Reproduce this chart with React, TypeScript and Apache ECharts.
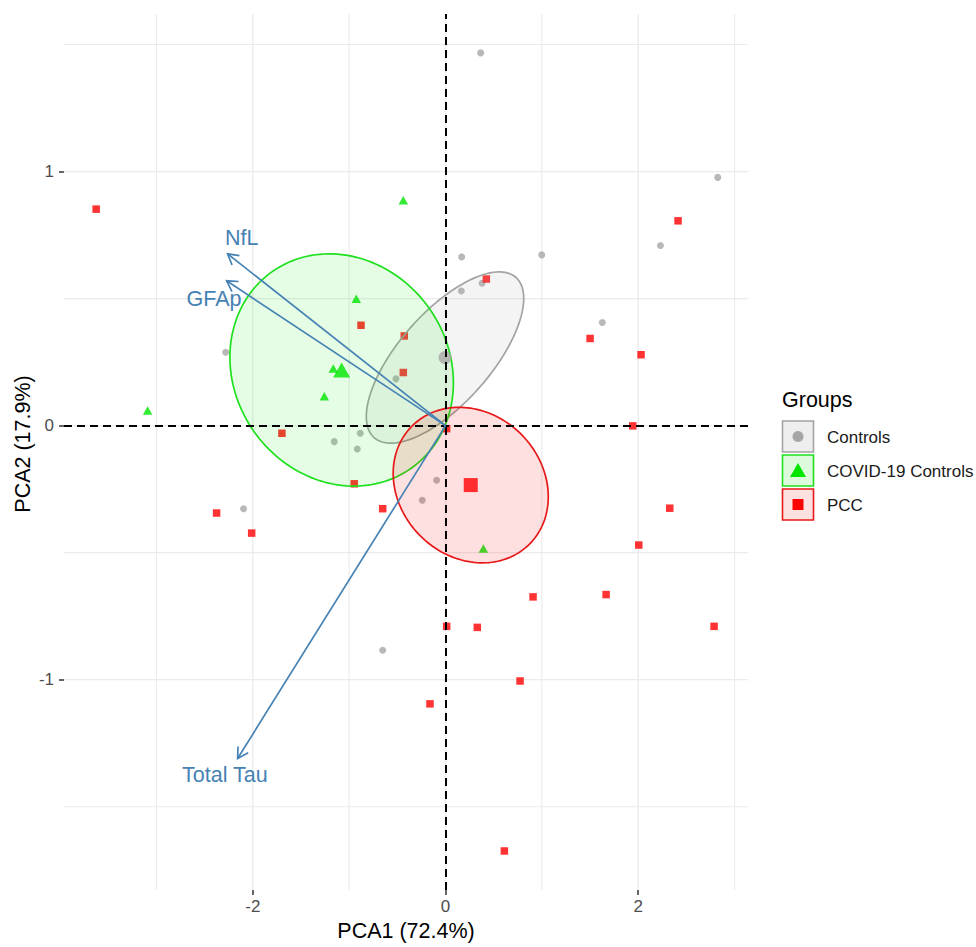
import React, { useEffect, useRef } from "react";
import * as echarts from "echarts";

// ---- data ----
const controlsX = [0.365, 2.826, 2.231, 0.999, 0.168, 0.164, 0.379, 1.628, -2.282, -0.514, -0.885, -1.155, -0.916, -2.096, -0.092, -0.241, -0.652];
const controlsY = [1.467, 0.977, 0.709, 0.672, 0.664, 0.53, 0.56, 0.406, 0.289, 0.184, -0.03, -0.063, -0.092, -0.327, -0.215, -0.294, -0.884];
const covidX = [-0.438, -0.926, -1.165, -1.258, -3.092, 0.393];
const covidY = [0.887, 0.499, 0.225, 0.116, 0.06, -0.484];
const pccX = [-3.626, -0.877, -0.428, -0.438, -1.698, 0.424, 0.012, 2.414, 1.501, 2.03, 1.944, -0.947, -2.376, -2.012, -0.652, 0.012, 0.33, -0.161, 2.328, 2.006, 0.909, 1.667, 2.788, 0.774, 0.611];
const pccY = [0.852, 0.395, 0.353, 0.209, -0.03, 0.577, -0.012, 0.806, 0.343, 0.279, -0.001, -0.229, -0.344, -0.423, -0.327, -0.79, -0.794, -1.095, -0.325, -0.47, -0.674, -0.665, -0.79, -1.005, -1.674];

const groups = ["Controls", "COVID-19 Controls", "PCC"];
const centroidX = [-0.005, -1.078, 0.262];
const centroidY = [0.268, 0.219, -0.234];
// confidence ellipse: half-width (x units), half-height (y units), correlation
const ellipseSX = [0.817, 1.16, 0.805];
const ellipseSY = [0.337, 0.457, 0.306];
const ellipseR = [0.689, -0.11, -0.15];

const variables = ["NfL", "GFAp", "Total Tau"];
const loadX = [-2.262, -2.272, -2.158];
const loadY = [0.676, 0.57, -1.31];
const labelX = [-2.116, -2.402, -2.29];
const labelY = [0.739, 0.499, -1.374];

const xMajor = [-2, 0, 2];
const xMinor = [-3, -1, 1, 3];
const yMajor = [-1, 0, 1];
const yMinor = [-1.5, -0.5, 0.5, 1.5];

// ---- styles ----
const FONT = "'Liberation Sans', Arial, Helvetica, sans-serif";
const pointColors = ["#a6a6a6", "#00e600", "#ff0000"];
const lineColors = ["#a3a3a3", "#1ee01e", "#e81818"];
const fillColors = ["rgba(170,170,170,0.13)", "rgba(0,230,0,0.1)", "rgba(255,0,0,0.12)"];
const keyFills = ["#eeeeee", "#dcfbdc", "#fde0e0"];
const ARROW = "#4682b4";

function zip(xs: number[], ys: number[]) {
  return xs.map((x, i) => [x, ys[i]]);
}

export default function App() {
  const ref = useRef<HTMLDivElement>(null);

  useEffect(() => {
    if (!ref.current) return;
    const chart = echarts.init(ref.current, undefined, { renderer: "svg" });

    const keyY = [421, 455, 489];
    const legendGraphics: any[] = [
      {
        type: "text",
        x: 782,
        y: 400,
        style: { text: "Groups", fontSize: 21.5, fontFamily: FONT, fill: "#000", align: "left", verticalAlign: "middle" },
      },
    ];
    groups.forEach((g, i) => {
      const y0 = keyY[i];
      legendGraphics.push({
        type: "rect",
        shape: { x: 782.5, y: y0, width: 31, height: 31 },
        style: { fill: keyFills[i], stroke: lineColors[i], lineWidth: 1.6 },
      });
      const cx = 798, cy = y0 + 15.5;
      if (i === 0) {
        legendGraphics.push({ type: "circle", shape: { cx, cy, r: 5.5 }, style: { fill: pointColors[0] } });
      } else if (i === 1) {
        legendGraphics.push({
          type: "polygon",
          shape: { points: [[cx, cy - 7.5], [cx + 8, cy + 6.5], [cx - 8, cy + 6.5]] },
          style: { fill: pointColors[1] },
        });
      } else {
        legendGraphics.push({ type: "rect", shape: { x: cx - 5.5, y: cy - 5.5, width: 11, height: 11 }, style: { fill: pointColors[2] } });
      }
      legendGraphics.push({
        type: "text",
        x: 827,
        y: cy + 0.5,
        style: { text: g, fontSize: 17, fontFamily: FONT, fill: "#1a1a1a", align: "left", verticalAlign: "middle" },
      });
    });
    legendGraphics.push({
      type: "text",
      x: 23,
      y: 444,
      rotation: Math.PI / 2,
      style: { text: "PCA2 (17.9%)", fontSize: 21.5, fontFamily: FONT, fill: "#000", align: "center", verticalAlign: "middle" },
    });

    // grid lines: [0 = vertical at x, 1 = horizontal at y, value, major?]
    const gridItems = [
      ...xMajor.map((v) => [0, v, 1]),
      ...xMinor.map((v) => [0, v, 0]),
      ...yMajor.map((v) => [1, v, 1]),
      ...yMinor.map((v) => [1, v, 0]),
    ];

    const option: any = {
      animation: false,
      textStyle: { fontFamily: FONT },
      grid: { left: 64, top: 14, width: 684, height: 883, containLabel: false },
      xAxis: {
        type: "value",
        min: -3.96,
        max: 3.14,
        splitLine: { show: false },
        axisLine: { show: false, onZero: false },
        axisTick: { show: true, customValues: xMajor, length: 5, lineStyle: { color: "#333", width: 1.5 } },
        axisLabel: { customValues: xMajor, fontSize: 17, color: "#4d4d4d", margin: 8, fontFamily: FONT },
        name: "PCA1 (72.4%)",
        nameLocation: "middle",
        nameGap: 28,
        nameTextStyle: { fontSize: 21.5, color: "#000", fontFamily: FONT },
      },
      yAxis: {
        type: "value",
        min: -1.828,
        max: 1.62,
        splitLine: { show: false },
        axisLine: { show: false, onZero: false },
        axisTick: { show: true, customValues: yMajor, length: 5, lineStyle: { color: "#333", width: 1.5 } },
        axisLabel: { customValues: yMajor, fontSize: 17, color: "#4d4d4d", margin: 10, fontFamily: FONT },
      },
      graphic: legendGraphics,
      series: [
        {
          name: "grid",
          type: "custom",
          z: 0,
          silent: true,
          clip: true,
          data: gridItems,
          renderItem: (params: any, api: any) => {
            const cs = params.coordSys;
            const dir = api.value(0);
            const v = api.value(1);
            const w = api.value(2) ? 1.3 : 1.1;
            if (dir === 0) {
              const p = api.coord([v, 0]);
              return { type: "line", shape: { x1: p[0], y1: cs.y, x2: p[0], y2: cs.y + cs.height }, style: { stroke: "#ebebeb", lineWidth: w } };
            }
            const p = api.coord([0, v]);
            return { type: "line", shape: { x1: cs.x, y1: p[1], x2: cs.x + cs.width, y2: p[1] }, style: { stroke: "#ebebeb", lineWidth: w } };
          },
        },
        {
          name: "Controls",
          type: "scatter",
          data: zip(controlsX, controlsY),
          symbol: "circle",
          symbolSize: 7,
          itemStyle: { color: pointColors[0] },
          z: 2,
        },
        {
          name: "COVID-19 Controls",
          type: "scatter",
          data: zip(covidX, covidY),
          symbol: "triangle",
          symbolSize: [9.5, 8.5],
          itemStyle: { color: pointColors[1] },
          z: 2,
        },
        {
          name: "PCC",
          type: "scatter",
          data: zip(pccX, pccY),
          symbol: "rect",
          symbolSize: 7.5,
          itemStyle: { color: pointColors[2] },
          z: 2,
        },
        {
          name: "ellipses",
          type: "custom",
          z: 3,
          silent: true,
          clip: true,
          encode: { x: 0, y: 1 },
          data: groups.map((_, i) => [centroidX[i], centroidY[i], ellipseSX[i], ellipseSY[i], ellipseR[i]]),
          renderItem: (params: any, api: any) => {
            const i = params.dataIndex;
            const cx = api.value(0), cy = api.value(1), sx = api.value(2), sy = api.value(3), r = api.value(4);
            const q = Math.sqrt(1 - r * r);
            const pts: number[][] = [];
            for (let k = 0; k < 160; k++) {
              const t = (2 * Math.PI * k) / 160;
              pts.push(api.coord([cx + sx * Math.cos(t), cy + sy * (r * Math.cos(t) + q * Math.sin(t))]));
            }
            return {
              type: "polygon",
              shape: { points: pts },
              style: { fill: fillColors[i], stroke: lineColors[i], lineWidth: 1.7 },
            };
          },
        },
        {
          name: "Controls mean",
          type: "scatter",
          data: [[centroidX[0], centroidY[0]]],
          symbol: "circle",
          symbolSize: 13,
          itemStyle: { color: pointColors[0] },
          z: 4,
        },
        {
          name: "COVID mean",
          type: "scatter",
          data: [[centroidX[1], centroidY[1]]],
          symbol: "triangle",
          symbolSize: [17, 15],
          itemStyle: { color: pointColors[1] },
          z: 4,
        },
        {
          name: "PCC mean",
          type: "scatter",
          data: [[centroidX[2], centroidY[2]]],
          symbol: "rect",
          symbolSize: 14,
          itemStyle: { color: pointColors[2] },
          z: 4,
        },
        {
          name: "zero lines",
          type: "scatter",
          data: [[0, 0]],
          symbolSize: 0,
          silent: true,
          z: 5,
          markLine: {
            silent: true,
            symbol: ["none", "none"],
            label: { show: false },
            lineStyle: { color: "#000", width: 2, type: [8, 5] },
            data: [{ xAxis: 0 }, { yAxis: 0 }],
            animation: false,
          },
        },
        {
          name: "loadings",
          type: "custom",
          z: 6,
          silent: true,
          clip: false,
          encode: { x: 0, y: 1 },
          data: variables.map((_, i) => [loadX[i], loadY[i], labelX[i], labelY[i]]),
          renderItem: (params: any, api: any) => {
            const i = params.dataIndex;
            const o = api.coord([0, 0]);
            const tip = api.coord([api.value(0), api.value(1)]);
            const ang = Math.atan2(tip[1] - o[1], tip[0] - o[0]);
            const L = 12, a = Math.PI / 6;
            const h1 = [tip[0] - L * Math.cos(ang - a), tip[1] - L * Math.sin(ang - a)];
            const h2 = [tip[0] - L * Math.cos(ang + a), tip[1] - L * Math.sin(ang + a)];
            const lp = api.coord([api.value(2), api.value(3)]);
            return {
              type: "group",
              children: [
                { type: "line", shape: { x1: o[0], y1: o[1], x2: tip[0], y2: tip[1] }, style: { stroke: ARROW, lineWidth: 1.7 } },
                { type: "polyline", shape: { points: [h1, tip, h2] }, style: { stroke: ARROW, lineWidth: 1.7, fill: "none" } },
                {
                  type: "text",
                  x: lp[0],
                  y: lp[1],
                  style: { text: variables[i], fill: ARROW, fontSize: 21.5, fontFamily: FONT, align: "center", verticalAlign: "middle" },
                },
              ],
            };
          },
        },
      ],
    };

    chart.setOption(option);
    return () => chart.dispose();
  }, []);

  return <div ref={ref} style={{ position: "fixed", left: 0, top: 0, width: 976, height: 947, background: "#fff" }} />;
}
